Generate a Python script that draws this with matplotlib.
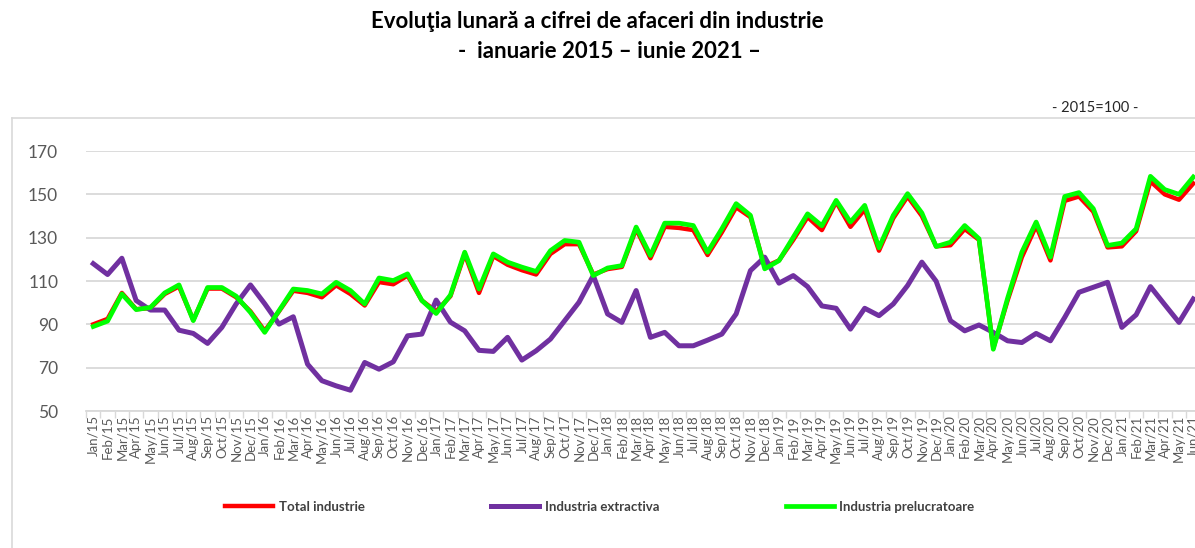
import matplotlib
matplotlib.use("Agg")
import matplotlib.pyplot as plt
from matplotlib.lines import Line2D

plt.rcParams['font.family'] = ['Lato', 'DejaVu Sans']

months = ["Jan", "Feb", "Mar", "Apr", "May", "Jun", "Jul", "Aug", "Sep", "Oct", "Nov", "Dec"]
years = ["15", "16", "17", "18", "19", "20", "21"]
labels = [f"{m}/{y}" for y in years for m in months][:78]

total_industrie = [
    90, 92.5, 104.5, 97, 97.5, 104, 107.5, 92, 106.5, 106.5, 102.5, 96,
    87, 96, 105.5, 104.5, 102.5, 108, 104, 98.7, 109.5, 108.5, 112.5, 101,
    96, 103, 122.5, 104.5, 121.5, 117.5, 115, 113, 122.5, 127, 127, 113,
    115.5, 116.5, 134, 120.5, 135, 134.5, 133.5, 122, 132.5, 144, 139.5, 116.5,
    119.5, 129, 139.5, 133.5, 146.5, 135, 143, 124, 139, 149, 140, 126,
    126.5, 134, 129, 79, 101, 121, 135.5, 119.5, 147, 149, 142, 125.5,
    126, 133, 156, 150, 147.5, 155,
]
industria_extractiva = [
    118, 113, 120.5, 101, 96.6, 96.6, 87.3, 85.8, 81.2, 88.6, 99.4, 108.2,
    99.5, 90.1, 93.5, 71.6, 64, 61.6, 59.6, 72.4, 69.3, 72.7, 84.7, 85.5,
    101.2, 91, 87, 78, 77.5, 84, 73.5, 77.8, 83.2, 91.7, 100.2, 112.5,
    94.8, 90.9, 105.6, 84, 86.3, 80.1, 80.1, 82.7, 85.5, 94.8, 114.8, 121,
    109, 112.5, 107.4, 98.5, 97.4, 87.8, 97.4, 94, 99.4, 107.9, 118.7, 109.9,
    91.7, 87, 89.7, 86.3, 82.4, 81.6, 85.8, 82.4, 93.2, 104.8, 107.1, 109.4,
    88.6, 94.4, 107.4, 99.1, 90.9, 101.7,
]
industria_prelucratoare = [
    89, 91.5, 104, 96.8, 97.8, 104.5, 108.2, 91.7, 107, 107, 103, 95.5,
    86.3, 96.3, 106.3, 105.6, 104, 109.4, 105.6, 99.4, 111.4, 110.2, 113.3, 101,
    95, 103.5, 123.3, 106.3, 122.5, 118.7, 116.4, 114.4, 124, 128.7, 127.9, 112.5,
    116, 117.1, 134.9, 121.8, 136.7, 136.7, 135.6, 123.3, 134.1, 145.7, 140.3, 115.6,
    119.4, 130.2, 141, 135.5, 147.2, 137.2, 144.9, 125.3, 140.3, 150.3, 141.4, 125.9,
    127.9, 135.6, 129.5, 78.5, 102, 123.3, 137.2, 121, 149, 150.8, 143.4, 126.4,
    127.5, 134.1, 158.3, 152.2, 150, 158,
]
series_names = ["Total industrie", "Industria extractiva", "Industria prelucratoare"]
yticks = [50, 70, 90, 110, 130, 150, 170]

W, H = 1195, 548
fig = plt.figure(figsize=(W / 100, H / 100), dpi=100)

# outer chart border (partially cut)
fig.add_artist(Line2D([12 / W, 12 / W], [0, 1 - 118 / H], color="#d9d9d9", lw=1.2))
fig.add_artist(Line2D([12 / W, 1], [1 - 118 / H, 1 - 118 / H], color="#d9d9d9", lw=1.2))

left, right = 86 / W, 1.0
bottom, top = 1 - 411 / H, 1 - 151 / H
ax = fig.add_axes([left, bottom, right - left, top - bottom])

x = list(range(len(labels)))
ax.plot(x, total_industrie, color="#ff0000", lw=3.2, solid_joinstyle="round", zorder=3, label=series_names[0])
ax.plot(x, industria_extractiva, color="#7030a0", lw=3.6, solid_joinstyle="round", zorder=4, label=series_names[1])
ax.plot(x, industria_prelucratoare, color="#00ff00", lw=3.4, solid_joinstyle="round", zorder=5, label=series_names[2])

ax.set_xlim(-0.51, 77.12)
ax.set_ylim(50, 170)
ax.set_yticks(yticks)
ax.set_yticklabels([str(v) for v in yticks], fontsize=12.5, color="#595959")
ax.yaxis.grid(True, color="#d9d9d9", lw=1.3, zorder=0)
ax.tick_params(axis="y", length=0, pad=20)
for s in ["top", "right", "left"]:
    ax.spines[s].set_visible(False)
ax.spines["bottom"].set_color("#d9d9d9")
ax.spines["bottom"].set_linewidth(1.3)
ax.set_axisbelow(True)

ax.set_xticks(x)
ax.set_xticklabels(labels, rotation=90, fontsize=9.5, color="#595959")
ax.tick_params(axis="x", length=0, pad=3)
ax.set_xticks([i - 0.5 for i in range(len(labels))], minor=True)
ax.tick_params(axis="x", which="minor", length=5, color="#d9d9d9", width=1)

fig.text(597 / W, 1 - 22 / H, "Evoluţia lunară a cifrei de afaceri din industrie",
         ha="center", va="center", fontsize=16, fontweight="bold", color="#000000")
fig.text(609 / W, 1 - 51 / H, "-  ianuarie 2015 – iunie 2021 –",
         ha="center", va="center", fontsize=16, fontweight="bold", color="#000000")
fig.text(1095 / W, 1 - 108 / H, "- 2015=100 -", ha="center", va="center",
         fontsize=10.5, color="#262626")

handles, lbls = ax.get_legend_handles_labels()
leg = fig.legend(handles, lbls, loc="center", bbox_to_anchor=(600 / W, 1 - 507 / H), ncol=3,
                 frameon=False, fontsize=9.5, handlelength=3.6, handletextpad=0.45,
                 columnspacing=9.6)
for t in leg.get_texts():
    t.set_color("#404040")
    t.set_fontweight("bold")

fig.savefig("out.png", dpi=100)
